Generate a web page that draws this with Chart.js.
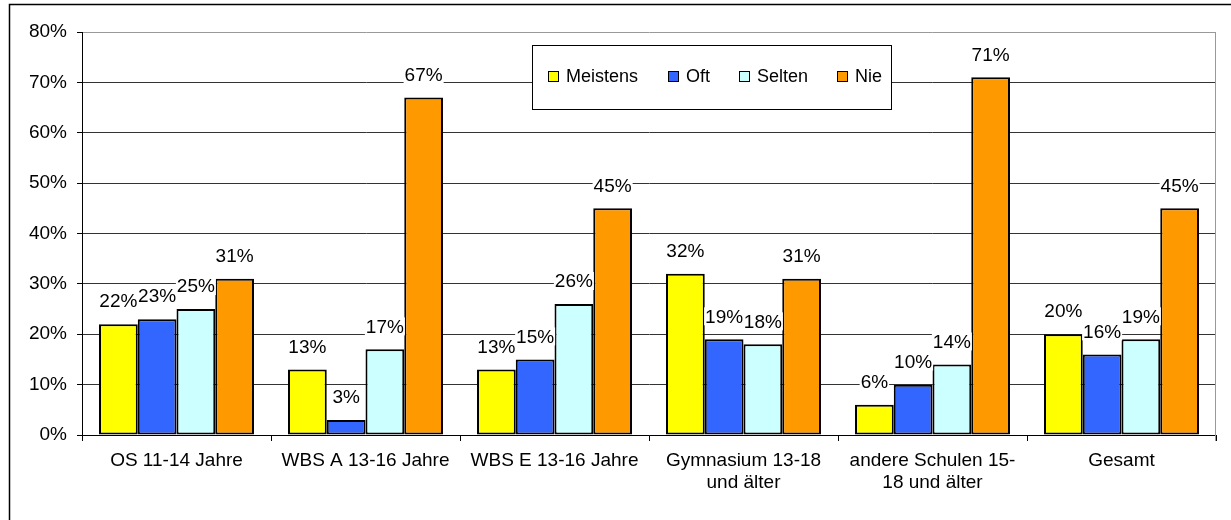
<!DOCTYPE html>
<html>
<head>
<meta charset="utf-8">
<script src="https://cdn.jsdelivr.net/npm/chart.js@4.4.1/dist/chart.umd.min.js"></script>
<style>
  html, body { margin: 0; padding: 0; background: #fff; }
  #wrap { width: 1231px; height: 520px; }
</style>
</head>
<body>
<div id="wrap"><canvas id="grafico" width="1231" height="520"></canvas></div>
<script>
// datos
const kategorien = [
    'OS 11-14 Jahre',
    'WBS A 13-16 Jahre',
    'WBS E 13-16 Jahre',
    ['Gymnasium 13-18', 'und älter'],
    ['andere Schulen 15-', '18 und älter'],
    'Gesamt'
];
const serien = ['Meistens', 'Oft', 'Selten', 'Nie'];
const meistens = [22, 13, 13, 32, 6, 20];
const oft = [23, 3, 15, 19, 10, 16];
const selten = [25, 17, 26, 18, 14, 19];
const nie = [31, 67, 45, 31, 71, 45];
const yTicks = [0, 10, 20, 30, 40, 50, 60, 70, 80];

const farben = ['#FFFF00', '#3366FF', '#CCFFFF', '#FF9900'];
const werte = [meistens, oft, selten, nie];
const familie = '"Liberation Sans", Arial, sans-serif';
const schrift = '19px ' + familie;

//* fondo, borde exterior, borde derecho del area
const rahmen = {
    id: 'rahmen',
    beforeDraw(chart) {
        const ctx = chart.ctx;
        ctx.save();
        ctx.fillStyle = '#fff';
        ctx.fillRect(0, 0, chart.width, chart.height);
        ctx.strokeStyle = '#000';
        ctx.lineWidth = 1.5;
        ctx.beginPath();
        ctx.moveTo(9.5, chart.height);
        ctx.lineTo(9.5, 4.5);
        ctx.lineTo(chart.width, 4.5);
        ctx.stroke();
        ctx.restore();
    },
    afterDraw(chart) {
        const a = chart.chartArea;
        const ctx = chart.ctx;
        ctx.save();
        ctx.strokeStyle = '#999';
        ctx.lineWidth = 1;
        ctx.beginPath();
        ctx.moveTo(a.right - 0.5, a.top);
        ctx.lineTo(a.right - 0.5, a.bottom + 6);
        ctx.stroke();
        ctx.restore();
    }
};

//* etiquetas de valor sobre las barras
const etiketten = {
    id: 'etiketten',
    afterDatasetsDraw(chart) {
        const ctx = chart.ctx;
        ctx.save();
        ctx.font = schrift;
        ctx.textAlign = 'center';
        ctx.textBaseline = 'middle';
        chart.data.datasets.forEach((ds, i) => {
            chart.getDatasetMeta(i).data.forEach((bar, j) => {
                const txt = ds.data[j] + '%';
                const w = ctx.measureText(txt).width;
                const y = bar.y - 23;
                ctx.fillStyle = '#fff';
                ctx.fillRect(bar.x - w / 2 - 1, y - 9, w + 2, 18);
                ctx.fillStyle = '#000';
                ctx.fillText(txt, bar.x, y + 1);
            });
        });
        ctx.restore();
    }
};

//* leyenda dentro del area
const legendeX = [548, 668, 739, 837];
const legende = {
    id: 'legende',
    afterDraw(chart) {
        const ctx = chart.ctx;
        ctx.save();
        ctx.fillStyle = '#fff';
        ctx.fillRect(532, 45, 359, 64);
        ctx.strokeStyle = '#000';
        ctx.lineWidth = 1;
        ctx.strokeRect(532.5, 45.5, 359, 64);
        ctx.font = '18px ' + familie;
        ctx.textBaseline = 'middle';
        ctx.textAlign = 'left';
        serien.forEach((name, i) => {
            const x = legendeX[i];
            ctx.fillStyle = farben[i];
            ctx.fillRect(x, 71, 11, 11);
            ctx.strokeStyle = '#000';
            ctx.strokeRect(x + 0.5, 71.5, 10, 10);
            ctx.fillStyle = '#000';
            ctx.fillText(name, x + 18, 77);
        });
        ctx.restore();
    }
};

const lienzo = document.getElementById('grafico').getContext('2d');
new Chart(lienzo, {
    type: 'bar',
    data: {
        labels: kategorien,
        datasets: serien.map((name, i) => ({
            label: name,
            data: werte[i],
            backgroundColor: farben[i],
            borderColor: '#000',
            borderWidth: 2,
            borderSkipped: false,
            categoryPercentage: 0.82,
            barPercentage: 1
        }))
    },
    options: {
        responsive: false,
        animation: false,
        layout: { padding: { left: 0, top: 32, right: 15, bottom: 0 } },
        plugins: {
            legend: { display: false },
            tooltip: { enabled: false }
        },
        scales: {
            x: {
                afterFit: s => { s.height = 85; },
                grid: {
                    offset: true,
                    drawOnChartArea: false,
                    tickLength: 6,
                    tickColor: '#000'
                },
                border: { color: '#000', width: 1 },
                ticks: {
                    color: '#000',
                    font: { family: familie, size: 19 },
                    padding: 8,
                    maxRotation: 0,
                    autoSkip: false
                }
            },
            y: {
                min: 0,
                max: 80,
                afterFit: s => { s.width = 82; },
                afterBuildTicks: s => { s.ticks = yTicks.map(v => ({ value: v })); },
                grid: {
                    color: c => (c.tick && c.tick.value === 80) ? '#999' : '#333',
                    tickLength: 5,
                    tickColor: '#000'
                },
                border: { color: '#000', width: 1 },
                ticks: {
                    color: '#000',
                    font: { family: familie, size: 19 },
                    padding: 10,
                    callback: v => v + '%'
                }
            }
        }
    },
    plugins: [rahmen, etiketten, legende]
});
</script>
</body>
</html>
